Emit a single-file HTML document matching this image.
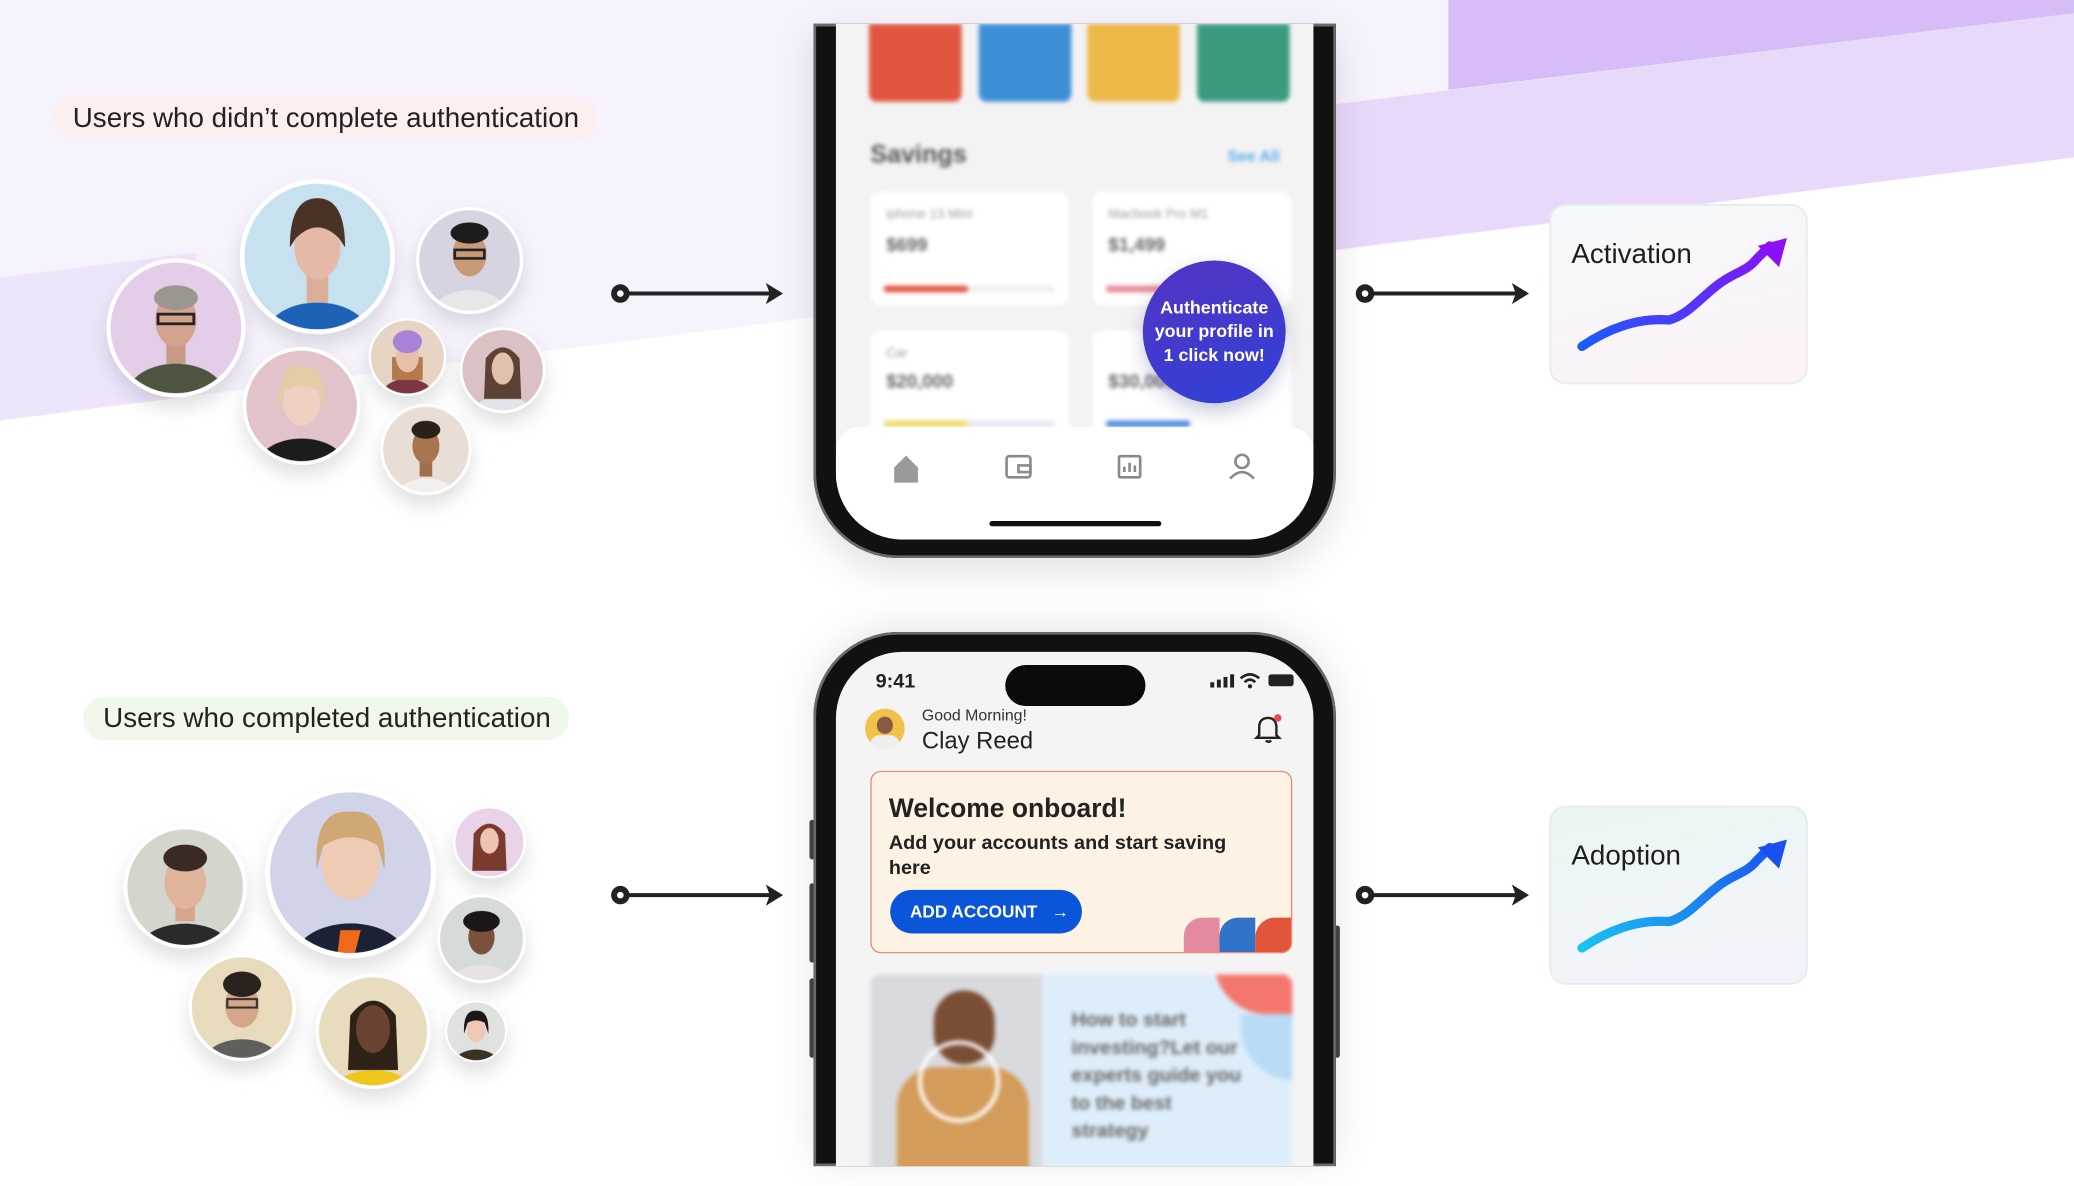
<!DOCTYPE html>
<html><head><meta charset="utf-8"><style>
html,body{margin:0;padding:0;width:2074px;height:1186px;overflow:hidden;background:#fff;}
#w{position:absolute;left:0;top:0;width:1568px;height:897px;transform:scale(1.32270,1.32219);transform-origin:0 0;font-family:"Liberation Sans",sans-serif;}
.abs{position:absolute;}
.blur{filter:blur(1.6px);}
</style></head><body><div id="w">
<svg class="abs" style="left:0;top:0" width="1568" height="897" viewBox="0 0 1568 897">
<defs>
<clipPath id="c"><circle r="48.5"/></clipPath>
<filter id="sh" x="-40%" y="-40%" width="180%" height="190%"><feDropShadow dx="0" dy="8" stdDeviation="7" flood-color="#000" flood-opacity="0.12"/></filter>
<linearGradient id="g1" gradientUnits="userSpaceOnUse" x1="1195" y1="262" x2="1350" y2="182"><stop offset="0" stop-color="#1a5cff"/><stop offset="1" stop-color="#8c0ff5"/></linearGradient>
<linearGradient id="g2" gradientUnits="userSpaceOnUse" x1="1195" y1="717" x2="1350" y2="637"><stop offset="0" stop-color="#19c3f2"/><stop offset="1" stop-color="#1a4ff0"/></linearGradient>
<linearGradient id="cb1" x1="0" y1="0" x2="0.3" y2="1"><stop offset="0" stop-color="#f4f9fa"/><stop offset="1" stop-color="#fbf3f7"/></linearGradient>
<linearGradient id="cb2" x1="0" y1="0" x2="0.3" y2="1"><stop offset="0" stop-color="#eaf6f2"/><stop offset="1" stop-color="#f3f4fb"/></linearGradient>
</defs>
<polygon points="0,0 1568,0 1568,119 0,318" fill="#f6f3fd"/>
<polygon points="0,210 148,191 148,299 0,318" fill="#efe5fb"/>
<polygon points="1000,80 1568,10 1568,119 1000,190" fill="#e8d9fb"/>
<polygon points="1095,0 1568,0 1568,10 1095,68" fill="#d6bdf7"/>

<rect x="40" y="73" width="412" height="32" rx="16" fill="#fcefef"/>
<text x="55" y="96" font-size="21" fill="#222" font-family="Liberation Sans, sans-serif">Users who didn’t complete authentication</text>
<rect x="63" y="527" width="367" height="33" rx="16" fill="#eff8eb"/>
<text x="78" y="550" font-size="21" fill="#222" font-family="Liberation Sans, sans-serif">Users who completed authentication</text>

<g filter="url(#sh)">
<g transform="translate(133,248) scale(1.04)"><circle r="50" fill="#fff"/><g clip-path="url(#c)"><rect x="-50" y="-50" width="100" height="100" fill="#e3cde9"/><ellipse cx="0" cy="50" rx="36" ry="24" fill="#4d5440"/><rect x="-7" y="10" width="14" height="16" fill="#c99a83"/><ellipse cx="0" cy="-6" rx="15" ry="20" fill="#d2a48d"/><ellipse cx="0" cy="-22" rx="16" ry="9" fill="#9a9690"/><rect x="-13" y="-10" width="26" height="7" fill="none" stroke="#222" stroke-width="2"/></g><circle r="49" fill="none" stroke="#fff" stroke-width="3"/></g>
<g transform="translate(240,194) scale(1.16)"><circle r="50" fill="#fff"/><g clip-path="url(#c)"><rect x="-50" y="-50" width="100" height="100" fill="#c7e1ee"/><ellipse cx="0" cy="52" rx="34" ry="22" fill="#1f63b8"/><rect x="-7" y="12" width="14" height="18" fill="#dcae98"/><ellipse cx="0" cy="-6" rx="15" ry="21" fill="#e5b9a5"/><path d="M-18,-6 Q-18,-38 0,-38 Q18,-38 18,-6 L14,-12 Q0,-26 -14,-12Z" fill="#4b3325"/></g><circle r="49" fill="none" stroke="#fff" stroke-width="3"/></g>
<g transform="translate(355,197) scale(0.8)"><circle r="50" fill="#fff"/><g clip-path="url(#c)"><rect x="-50" y="-50" width="100" height="100" fill="#d7d4e2"/><ellipse cx="0" cy="52" rx="36" ry="24" fill="#e7e7ea"/><ellipse cx="0" cy="-6" rx="16" ry="21" fill="#c89a78"/><ellipse cx="0" cy="-26" rx="18" ry="10" fill="#1e1b1a"/><rect x="-14" y="-10" width="28" height="8" fill="none" stroke="#222" stroke-width="2.5"/></g><circle r="49" fill="none" stroke="#fff" stroke-width="3"/></g>
<g transform="translate(228,307) scale(0.88)"><circle r="50" fill="#fff"/><g clip-path="url(#c)"><rect x="-50" y="-50" width="100" height="100" fill="#e2c3c9"/><ellipse cx="0" cy="52" rx="38" ry="24" fill="#1c1b1d"/><ellipse cx="0" cy="-4" rx="16" ry="21" fill="#efd0c1"/><path d="M-20,6 Q-22,-36 0,-34 Q22,-36 20,6 L15,-12 Q0,-22 -15,-12Z" fill="#e2cda7"/></g><circle r="49" fill="none" stroke="#fff" stroke-width="3"/></g>
<g transform="translate(308,270) scale(0.58)"><circle r="50" fill="#fff"/><g clip-path="url(#c)"><rect x="-50" y="-50" width="100" height="100" fill="#e7d4c5"/><ellipse cx="0" cy="52" rx="34" ry="24" fill="#7c3645"/><path d="M-20,30 L-20,0 L20,0 L20,30Z" fill="#b47a4e"/><ellipse cx="0" cy="0" rx="15" ry="20" fill="#e6c0a8"/><ellipse cx="0" cy="-20" rx="19" ry="15" fill="#a882d6"/></g><circle r="49" fill="none" stroke="#fff" stroke-width="3"/></g>
<g transform="translate(380,280) scale(0.64)"><circle r="50" fill="#fff"/><g clip-path="url(#c)"><rect x="-50" y="-50" width="100" height="100" fill="#dcc1c4"/><ellipse cx="0" cy="54" rx="36" ry="24" fill="#e5e3ea"/><path d="M-22,34 L-20,-14 Q0,-40 20,-14 L22,34Z" fill="#5b4336"/><ellipse cx="0" cy="-2" rx="13" ry="19" fill="#e2c0ae"/></g><circle r="49" fill="none" stroke="#fff" stroke-width="3"/></g>
<g transform="translate(322,340) scale(0.68)"><circle r="50" fill="#fff"/><g clip-path="url(#c)"><rect x="-50" y="-50" width="100" height="100" fill="#e9ded5"/><ellipse cx="0" cy="54" rx="34" ry="22" fill="#f2f0ee"/><rect x="-7" y="10" width="14" height="20" fill="#a06d4d"/><ellipse cx="0" cy="-4" rx="15" ry="20" fill="#a87453"/><ellipse cx="0" cy="-22" rx="16" ry="10" fill="#2a2019"/></g><circle r="49" fill="none" stroke="#fff" stroke-width="3"/></g>

<g transform="translate(140,671) scale(0.92)"><circle r="50" fill="#fff"/><g clip-path="url(#c)"><rect x="-50" y="-50" width="100" height="100" fill="#d4d5cc"/><ellipse cx="0" cy="52" rx="38" ry="22" fill="#2b2c2c"/><rect x="-8" y="10" width="16" height="18" fill="#d7a58b"/><ellipse cx="0" cy="-4" rx="17" ry="22" fill="#e0b39b"/><ellipse cx="0" cy="-24" rx="18" ry="11" fill="#3a2a22"/></g><circle r="49" fill="none" stroke="#fff" stroke-width="3"/></g>
<g transform="translate(265,660) scale(1.28)"><circle r="50" fill="#fff"/><g clip-path="url(#c)"><rect x="-50" y="-50" width="100" height="100" fill="#d1d3e8"/><ellipse cx="0" cy="52" rx="34" ry="22" fill="#1e2236"/><path d="M-6,34 L6,34 L2,50 L-8,50Z" fill="#f06a1d"/><ellipse cx="0" cy="-6" rx="17" ry="22" fill="#f0cbb4"/><path d="M-20,-2 Q-22,-38 0,-36 Q22,-38 20,-2 L16,-16 Q0,-26 -16,-16Z" fill="#cfa874"/></g><circle r="49" fill="none" stroke="#fff" stroke-width="3"/></g>
<g transform="translate(370,637) scale(0.54)"><circle r="50" fill="#fff"/><g clip-path="url(#c)"><rect x="-50" y="-50" width="100" height="100" fill="#e8d3e8"/><path d="M-24,40 L-22,-12 Q0,-40 22,-12 L24,40Z" fill="#7a3a2e"/><ellipse cx="0" cy="-2" rx="13" ry="18" fill="#eec4b1"/></g><circle r="49" fill="none" stroke="#fff" stroke-width="3"/></g>
<g transform="translate(364,710) scale(0.66)"><circle r="50" fill="#fff"/><g clip-path="url(#c)"><rect x="-50" y="-50" width="100" height="100" fill="#d6dbd9"/><ellipse cx="0" cy="52" rx="36" ry="22" fill="#e7e3e5"/><ellipse cx="0" cy="-2" rx="15" ry="20" fill="#7a513c"/><ellipse cx="0" cy="-20" rx="21" ry="12" fill="#1b1412"/></g><circle r="49" fill="none" stroke="#fff" stroke-width="3"/></g>
<g transform="translate(183,762) scale(0.8)"><circle r="50" fill="#fff"/><g clip-path="url(#c)"><rect x="-50" y="-50" width="100" height="100" fill="#e8dbbb"/><ellipse cx="0" cy="52" rx="36" ry="22" fill="#5e5e5c"/><ellipse cx="0" cy="-2" rx="16" ry="21" fill="#d6a68a"/><ellipse cx="0" cy="-22" rx="18" ry="12" fill="#2a211d"/><rect x="-14" y="-8" width="28" height="8" fill="none" stroke="#333" stroke-width="2"/></g><circle r="49" fill="none" stroke="#fff" stroke-width="3"/></g>
<g transform="translate(282,780) scale(0.86)"><circle r="50" fill="#fff"/><g clip-path="url(#c)"><rect x="-50" y="-50" width="100" height="100" fill="#e8dcbe"/><ellipse cx="0" cy="54" rx="36" ry="20" fill="#f0c51e"/><path d="M-22,34 L-20,-14 Q0,-40 20,-14 L22,34Z" fill="#2e2018"/><ellipse cx="0" cy="-2" rx="15" ry="21" fill="#6b4230"/></g><circle r="49" fill="none" stroke="#fff" stroke-width="3"/></g>
<g transform="translate(360,780) scale(0.46)"><circle r="50" fill="#fff"/><g clip-path="url(#c)"><rect x="-50" y="-50" width="100" height="100" fill="#dfe2de"/><ellipse cx="0" cy="52" rx="36" ry="22" fill="#3a3026"/><ellipse cx="0" cy="-2" rx="15" ry="20" fill="#efc7b2"/><path d="M-20,4 Q-22,-36 0,-34 Q22,-36 20,4 L14,-14 Q0,-22 -14,-14Z" fill="#1c1716"/></g><circle r="49" fill="none" stroke="#fff" stroke-width="3"/></g>
</g>

<g stroke="#222" stroke-width="3" fill="none">
<line x1="470" y1="222" x2="586" y2="222"/><line x1="1033" y1="222" x2="1150" y2="222"/>
<line x1="470" y1="677" x2="586" y2="677"/><line x1="1033" y1="677" x2="1150" y2="677"/>
</g>
<g fill="#222">
<circle cx="469" cy="222" r="7"/><circle cx="1032" cy="222" r="7"/><circle cx="469" cy="677" r="7"/><circle cx="1032" cy="677" r="7"/>
<path d="M579,214 L592,222 L579,230 L582,222Z"/><path d="M1143,214 L1156,222 L1143,230 L1146,222Z"/>
<path d="M579,669 L592,677 L579,685 L582,677Z"/><path d="M1143,669 L1156,677 L1143,685 L1146,677Z"/>
</g>
<g fill="#fff"><circle cx="469" cy="222" r="2.5"/><circle cx="1032" cy="222" r="2.5"/><circle cx="469" cy="677" r="2.5"/><circle cx="1032" cy="677" r="2.5"/></g>

<rect x="1172" y="155" width="194" height="135" rx="12" fill="url(#cb1)" stroke="#e7ecec" stroke-width="1.5"/>
<text x="1188" y="199" font-size="21" fill="#1d1d1f" font-family="Liberation Sans, sans-serif">Activation</text>
<path d="M1196,262 C1215,249 1238,240 1262,242 C1276,238 1285,226 1298,216 C1310,206 1320,206 1328,196 L1338,186" stroke="url(#g1)" stroke-width="7" fill="none" stroke-linecap="round" stroke-linejoin="round"/>
<path d="M1351,180 L1329,186 L1345,202Z" fill="#8c0ff5"/>
<rect x="1172" y="610" width="194" height="134" rx="12" fill="url(#cb2)" stroke="#e7ecec" stroke-width="1.5"/>
<text x="1188" y="654" font-size="21" fill="#1d1d1f" font-family="Liberation Sans, sans-serif">Adoption</text>
<path d="M1196,717 C1215,704 1238,695 1262,697 C1276,693 1285,681 1298,671 C1310,661 1320,661 1328,651 L1338,641" stroke="url(#g2)" stroke-width="7" fill="none" stroke-linecap="round" stroke-linejoin="round"/>
<path d="M1351,635 L1329,641 L1345,657Z" fill="#1a4ff0"/>
</svg>

<div class="abs" style="left:615px;top:18px;width:395px;height:404px;background:#111;border-radius:0 0 64px 64px;box-shadow:0 10px 30px rgba(0,0,0,0.12), inset 0 0 0 2px #6a6a6a;">
 <div class="abs" style="left:17px;top:0;width:361px;height:390px;background:#f3f3f4;border-radius:0 0 50px 50px;overflow:hidden;">
  <div class="blur abs" style="left:0;top:0;width:361px;height:320px;">
   <div class="abs" style="left:25px;top:0;width:70px;height:59px;background:#e2553f;border-radius:0 0 6px 6px"></div>
   <div class="abs" style="left:108px;top:0;width:70px;height:59px;background:#3d8fd5;border-radius:0 0 6px 6px"></div>
   <div class="abs" style="left:190px;top:0;width:70px;height:59px;background:#eeb849;border-radius:0 0 6px 6px"></div>
   <div class="abs" style="left:273px;top:0;width:70px;height:59px;background:#3c9a80;border-radius:0 0 6px 6px"></div>
   <div class="abs" style="left:26px;top:89px;font-size:19px;font-weight:bold;color:#555">Savings</div>
   <div class="abs" style="left:296px;top:93px;font-size:12px;font-weight:bold;color:#5aaee8">See All</div>
   <div class="abs" style="left:26px;top:127px;width:150px;height:86px;background:#fff;border-radius:8px"><div class="abs" style="left:12px;top:12px;font-size:10px;color:#999">iphone 13 Mini</div><div class="abs" style="left:12px;top:32px;font-size:14px;font-weight:bold;color:#666">$699</div><div class="abs" style="left:10px;top:71px;width:130px;height:5px;background:#eef2ea;border-radius:3px"></div><div class="abs" style="left:10px;top:71px;width:64px;height:5px;background:#e2553f;border-radius:3px"></div></div>
   <div class="abs" style="left:194px;top:127px;width:150px;height:86px;background:#fff;border-radius:8px"><div class="abs" style="left:12px;top:12px;font-size:10px;color:#999">Macbook Pro M1</div><div class="abs" style="left:12px;top:32px;font-size:14px;font-weight:bold;color:#666">$1,499</div><div class="abs" style="left:10px;top:71px;width:60px;height:5px;background:#e8899a;border-radius:3px"></div></div>
   <div class="abs" style="left:26px;top:232px;width:150px;height:100px;background:#fff;border-radius:8px"><div class="abs" style="left:12px;top:12px;font-size:10px;color:#999">Car</div><div class="abs" style="left:12px;top:30px;font-size:14px;font-weight:bold;color:#666">$20,000</div><div class="abs" style="left:10px;top:68px;width:130px;height:5px;background:#ebe6f2;border-radius:3px"></div><div class="abs" style="left:10px;top:68px;width:64px;height:5px;background:#f0dc6a;border-radius:3px"></div></div>
   <div class="abs" style="left:194px;top:232px;width:150px;height:100px;background:#fff;border-radius:8px"><div class="abs" style="left:12px;top:30px;font-size:14px;font-weight:bold;color:#666">$30,000</div><div class="abs" style="left:10px;top:68px;width:64px;height:5px;background:#4d8ee0;border-radius:3px"></div></div>
  </div>
  <div class="abs" style="left:0;top:305px;width:361px;height:90px;background:#fff;border-radius:18px 18px 0 0;">
   <svg class="abs" style="left:0;top:0" width="361" height="90" fill="none" stroke="#8a8a8a" stroke-width="2">
    <path d="M45,31 L53,23 L61,31 L61,41 L45,41Z" fill="#9a9a9a" stroke="#9a9a9a"/>
    <rect x="129" y="22" width="18" height="16" rx="2"/><path d="M138,29 h9 v5 h-9z"/>
    <rect x="214" y="22" width="16" height="16" rx="1"/><path d="M218,34 v-4 M222,34 v-7 M226,34 v-5"/>
    <circle cx="307" cy="26" r="5"/><path d="M298,39 Q307,29 316,39"/>
   </svg>
   <div class="abs" style="left:116px;top:71px;width:130px;height:4px;background:#111;border-radius:2px"></div>
  </div>
 </div>
</div>
<div class="abs" style="left:864px;top:197px;width:108px;height:108px;border-radius:54px;background:linear-gradient(160deg,#5434c4,#2f41d6);box-shadow:0 6px 14px rgba(40,40,120,0.25);color:#fff;font-weight:bold;font-size:13.5px;line-height:18px;text-align:center;display:flex;align-items:center;justify-content:center;">Authenticate<br>your profile in<br>1 click now!</div>

<div class="abs" style="left:612px;top:620px;width:4px;height:30px;background:#444;border-radius:2px"></div>
<div class="abs" style="left:612px;top:668px;width:4px;height:60px;background:#444;border-radius:2px"></div>
<div class="abs" style="left:612px;top:740px;width:4px;height:60px;background:#444;border-radius:2px"></div>
<div class="abs" style="left:1009px;top:700px;width:4px;height:100px;background:#444;border-radius:2px"></div>
<div class="abs" style="left:615px;top:478px;width:395px;height:404px;background:#111;border-radius:64px 64px 0 0;box-shadow:0 -4px 30px rgba(0,0,0,0.10), inset 0 0 0 2px #6a6a6a;overflow:hidden;">
 <div class="abs" style="left:17px;top:15px;width:361px;height:389px;background:#f4f4f5;border-radius:50px 50px 0 0;overflow:hidden;">
  <div class="abs" style="left:30px;top:14px;font-size:15px;font-weight:bold;color:#222">9:41</div>
  <div class="abs" style="left:128px;top:10px;width:106px;height:31px;background:#0a0a0a;border-radius:16px"></div>
  <svg class="abs" style="left:280px;top:14px" width="70" height="16"><rect x="3" y="9" width="3" height="4" fill="#222"/><rect x="8" y="7" width="3" height="6" fill="#222"/><rect x="13" y="5" width="3" height="8" fill="#222"/><rect x="18" y="3" width="3" height="10" fill="#222"/><path d="M26,6 Q33,0 40,6 M29,9 Q33,5 37,9" stroke="#222" stroke-width="2" fill="none"/><circle cx="33" cy="12" r="1.6" fill="#222"/><rect x="47" y="3" width="19" height="9" rx="2" fill="#222"/></svg>
  <div class="abs" style="left:22px;top:43px;width:30px;height:30px;border-radius:15px;background:#f0c24b;overflow:hidden"><div class="abs" style="left:9px;top:6px;width:12px;height:13px;border-radius:6px;background:#8a5b44"></div><div class="abs" style="left:4px;top:20px;width:22px;height:14px;border-radius:8px;background:#eee"></div></div>
  <div class="abs" style="left:65px;top:41px;font-size:12px;color:#333">Good Morning!</div>
  <div class="abs" style="left:65px;top:57px;font-size:18px;color:#222">Clay Reed</div>
  <svg class="abs" style="left:315px;top:46px" width="24" height="24" fill="none" stroke="#222" stroke-width="1.8"><path d="M5,17 L5,11 Q5,4 12,4 Q17,4 18,10 L18,17 L20,19 L3,19Z"/><path d="M10,21 Q12,23 14,21"/><circle cx="19" cy="4" r="2.8" fill="#e94848" stroke="none"/></svg>
  <div class="abs" style="left:26px;top:90px;width:317px;height:136px;background:#fdf3e4;border:1.5px solid #eb8b6f;border-radius:8px;overflow:hidden;">
   <div class="abs" style="left:13px;top:17px;font-size:20px;font-weight:bold;color:#222">Welcome onboard!</div>
   <div class="abs" style="left:13px;top:44px;width:280px;font-size:15px;font-weight:bold;color:#222;line-height:19px">Add your accounts and start saving here</div>
   <div class="abs" style="left:14px;top:89px;width:145px;height:33px;border-radius:17px;background:#0b55d8;color:#fff;font-size:13px;font-weight:bold;line-height:33px;text-indent:15px">ADD ACCOUNT&nbsp;&nbsp;&nbsp;→</div>
   <div class="abs" style="left:236px;top:110px;width:27px;height:30px;background:#e48aa0;border-radius:14px 0 0 0"></div>
   <div class="abs" style="left:263px;top:110px;width:27px;height:30px;background:#2f74c8;border-radius:14px 0 0 0"></div>
   <div class="abs" style="left:290px;top:110px;width:30px;height:30px;background:#e2553b;border-radius:15px 0 0 0"></div>
  </div>
  <div class="abs blur" style="left:26px;top:244px;width:319px;height:150px;background:#ddeefa;border-radius:8px;overflow:hidden;">
   <div class="abs" style="left:0;top:0;width:130px;height:150px;background:#d9dade"></div>
   <div class="abs" style="left:20px;top:70px;width:100px;height:80px;background:#d49c5a;border-radius:30px 30px 0 0"></div>
   <div class="abs" style="left:48px;top:12px;width:46px;height:56px;background:#7a4e34;border-radius:23px"></div>
   <div class="abs" style="left:36px;top:50px;width:56px;height:56px;border:3px solid #fff;border-radius:32px"></div>
   <div class="abs" style="left:260px;top:-10px;width:70px;height:40px;background:#f4776d;border-radius:0 0 0 40px"></div>
   <div class="abs" style="left:280px;top:30px;width:40px;height:50px;background:#b9dcf6;border-radius:0 0 0 40px"></div>
   <div class="abs" style="left:152px;top:24px;width:130px;font-size:15px;font-weight:bold;color:#666;line-height:21px">How to start investing?Let our experts guide you to the best strategy</div>
  </div>
 </div>
</div>
</div></body></html>
